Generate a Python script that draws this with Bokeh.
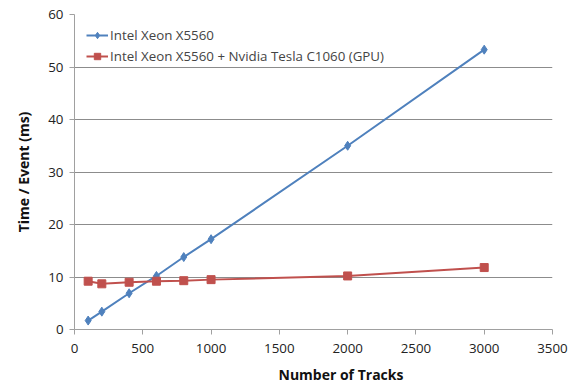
from bokeh.plotting import figure
from bokeh.embed import file_html
from bokeh.resources import INLINE
from bokeh.models import Range1d, FixedTicker, Legend, LegendItem, Title

tracks = [100, 200, 400, 600, 800, 1000, 2000, 3000]
cpu = [1.7, 3.4, 6.9, 10.2, 13.8, 17.2, 35.0, 53.3]
gpu = [9.2, 8.7, 9.0, 9.2, 9.3, 9.5, 10.2, 11.8]
x_ticks = [0, 500, 1000, 1500, 2000, 2500, 3000, 3500]
y_ticks = [0, 10, 20, 30, 40, 50, 60]

FONT = "Open Sans"
BLUE = "#4F81BD"
RED = "#C0504D"

p = figure(width=572, height=390, output_backend="svg", toolbar_location=None,
           x_range=Range1d(0, 3500), y_range=Range1d(0, 60),
           min_border_left=74, min_border_right=20, min_border_top=14, min_border_bottom=60)
p.outline_line_color = None
p.background_fill_color = "white"

p.xgrid.grid_line_color = None
p.ygrid.grid_line_color = "#8C8C8C"
p.ygrid.grid_line_width = 1

l1 = p.line(tracks, cpu, line_color=BLUE, line_width=2)
s1 = p.scatter(tracks, cpu, marker="diamond", size=9, fill_color=BLUE, line_color=BLUE)
l2 = p.line(tracks, gpu, line_color=RED, line_width=2)
s2 = p.scatter(tracks, gpu, marker="square", size=8, fill_color=RED, line_color=RED)

legend = Legend(items=[
    LegendItem(label="Intel Xeon X5560", renderers=[l1, s1]),
    LegendItem(label="Intel Xeon X5560 + Nvidia Tesla C1060 (GPU)", renderers=[l2, s2]),
], location="top_left")
legend.border_line_color = None
legend.background_fill_alpha = 0
legend.label_text_font = FONT
legend.label_text_font_size = "10pt"
legend.glyph_width = 22
legend.glyph_height = 16
legend.spacing = 3
legend.label_height = 16
legend.margin = 12
legend.padding = 4
legend.label_standoff = 2
p.add_layout(legend)

p.xaxis.ticker = FixedTicker(ticks=x_ticks)
p.yaxis.ticker = FixedTicker(ticks=y_ticks)
p.yaxis.axis_label = "Time / Event (ms)"
for ax in (p.xaxis[0], p.yaxis[0]):
    ax.axis_line_color = "#A0A0A0"
    ax.major_tick_line_color = "#A0A0A0"
    ax.minor_tick_line_color = None
    ax.major_tick_in = 0
    ax.major_tick_out = 5
    ax.major_label_text_font = FONT
    ax.major_label_text_font_size = "10pt"
    ax.major_label_text_color = "#222222"
    ax.axis_label_text_font = FONT
    ax.axis_label_text_font_size = "10.5pt"
    ax.axis_label_text_font_style = "bold"
    ax.axis_label_text_color = "#111111"
p.xaxis.major_label_standoff = 9
p.yaxis.major_label_standoff = 6
p.yaxis.axis_label_standoff = 12

xt = Title(text="Number of Tracks", align="left", offset=204,
           text_font=FONT, text_font_size="10.5pt", text_font_style="bold",
           text_color="#111111", standoff=14, text_line_height=0.7)
p.add_layout(xt, "below")

open("out.html", "w").write(file_html(p, INLINE))
